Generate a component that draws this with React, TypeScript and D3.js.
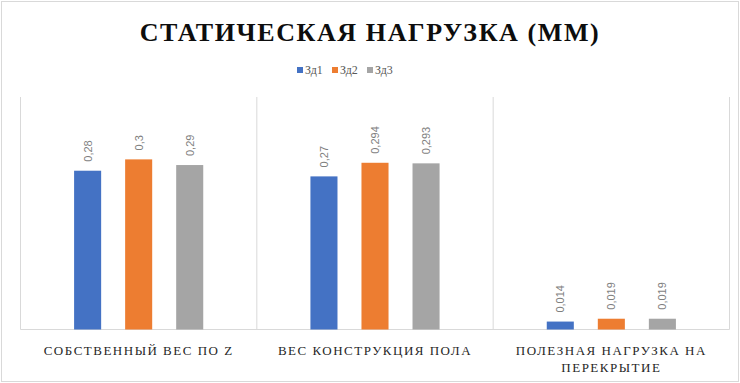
import * as d3 from "d3";

const categories = ["Собственный вес по Z", "Вес конструкция пола", "Полезная нагрузка на\nперекрытие"];
const seriesNames = ["Зд1", "Зд2", "Зд3"];
const seriesValues = [
  [0.28, 0.27, 0.014],
  [0.3, 0.294, 0.019],
  [0.29, 0.293, 0.019],
];
const valueLabels = [
  ["0,28", "0,27", "0,014"],
  ["0,3", "0,294", "0,019"],
  ["0,29", "0,293", "0,019"],
];
const colors = ["#4472c4", "#ed7d31", "#a5a5a5"];

const SERIF = "Liberation Serif";
const SANS = "Liberation Sans";

const width = 740;
const height = 383;
const left = 20.5;
const right = 729.5;
const top = 97;
const bottom = 329.5;

export default function App() {
  const x0 = d3.scaleBand().domain(categories).range([left, right]).padding(0);
  const x1 = d3
    .scaleBand()
    .domain(seriesNames)
    .range([0, x0.bandwidth()])
    .paddingInner(0.47)
    .paddingOuter(1.05);
  const y = d3.scaleLinear().domain([0, 0.41]).range([bottom, top]);
  const borders = [left, ...categories.map((c) => (x0(c) as number) + x0.bandwidth())];

  return (
    <div style={{ position: "absolute", left: 0, top: 0, width, height, background: "#fff" }}>
      <svg width={width} height={height} viewBox={`0 0 ${width} ${height}`}>
        <rect x={1.5} y={1.5} width={width - 3} height={height - 3} fill="#fff" stroke="#d9d9d9" />
        <text
          x={width / 2}
          y={41}
          textAnchor="middle"
          style={{ fontFamily: SERIF, fontWeight: 700, fontSize: "26px", letterSpacing: "1.6px" }}
          fill="#0d0d0d"
        >
          СТАТИЧЕСКАЯ НАГРУЗКА (ММ)
        </text>
        {seriesNames.map((name, i) => (
          <g key={name}>
            <rect x={297 + i * 35} y={67} width={6} height={6} fill={colors[i]} />
            <text x={305 + i * 35} y={74} style={{ fontFamily: SERIF, fontSize: "12px" }} fill="#595959">
              {name}
            </text>
          </g>
        ))}
        {borders.map((b, i) => (
          <line key={i} x1={b} x2={b} y1={top} y2={bottom} stroke="#d9d9d9" />
        ))}
        <line x1={left} x2={right} y1={bottom} y2={bottom} stroke="#d9d9d9" />
        {seriesNames.map((s, si) =>
          categories.map((c, ci) => {
            const bx = (x0(c) as number) + (x1(s) as number);
            const v = seriesValues[si][ci];
            return (
              <rect
                key={s + ci}
                x={bx}
                y={y(v)}
                width={x1.bandwidth()}
                height={bottom - y(v)}
                fill={colors[si]}
              />
            );
          })
        )}
        {seriesNames.map((s, si) =>
          categories.map((c, ci) => {
            const cx = (x0(c) as number) + (x1(s) as number) + x1.bandwidth() / 2;
            const v = seriesValues[si][ci];
            return (
              <g key={"l" + s + ci} transform={`translate(${cx + 4},${y(v) - 9}) rotate(-90)`}>
                <text style={{ fontFamily: SANS, fontSize: "11px" }} fill="#7f7f7f">
                  {valueLabels[si][ci]}
                </text>
              </g>
            );
          })
        )}
        {categories.map((c) => {
          const lines = c.toUpperCase().split("\n");
          const cx = (x0(c) as number) + x0.bandwidth() / 2;
          return lines.map((line, li) => (
            <text
              key={c + li}
              x={cx}
              y={355 + li * 17}
              textAnchor="middle"
              style={{ fontFamily: SERIF, fontSize: "13px", letterSpacing: "1.5px" }}
              fill="#262626"
            >
              {line}
            </text>
          ));
        })}
      </svg>
    </div>
  );
}
